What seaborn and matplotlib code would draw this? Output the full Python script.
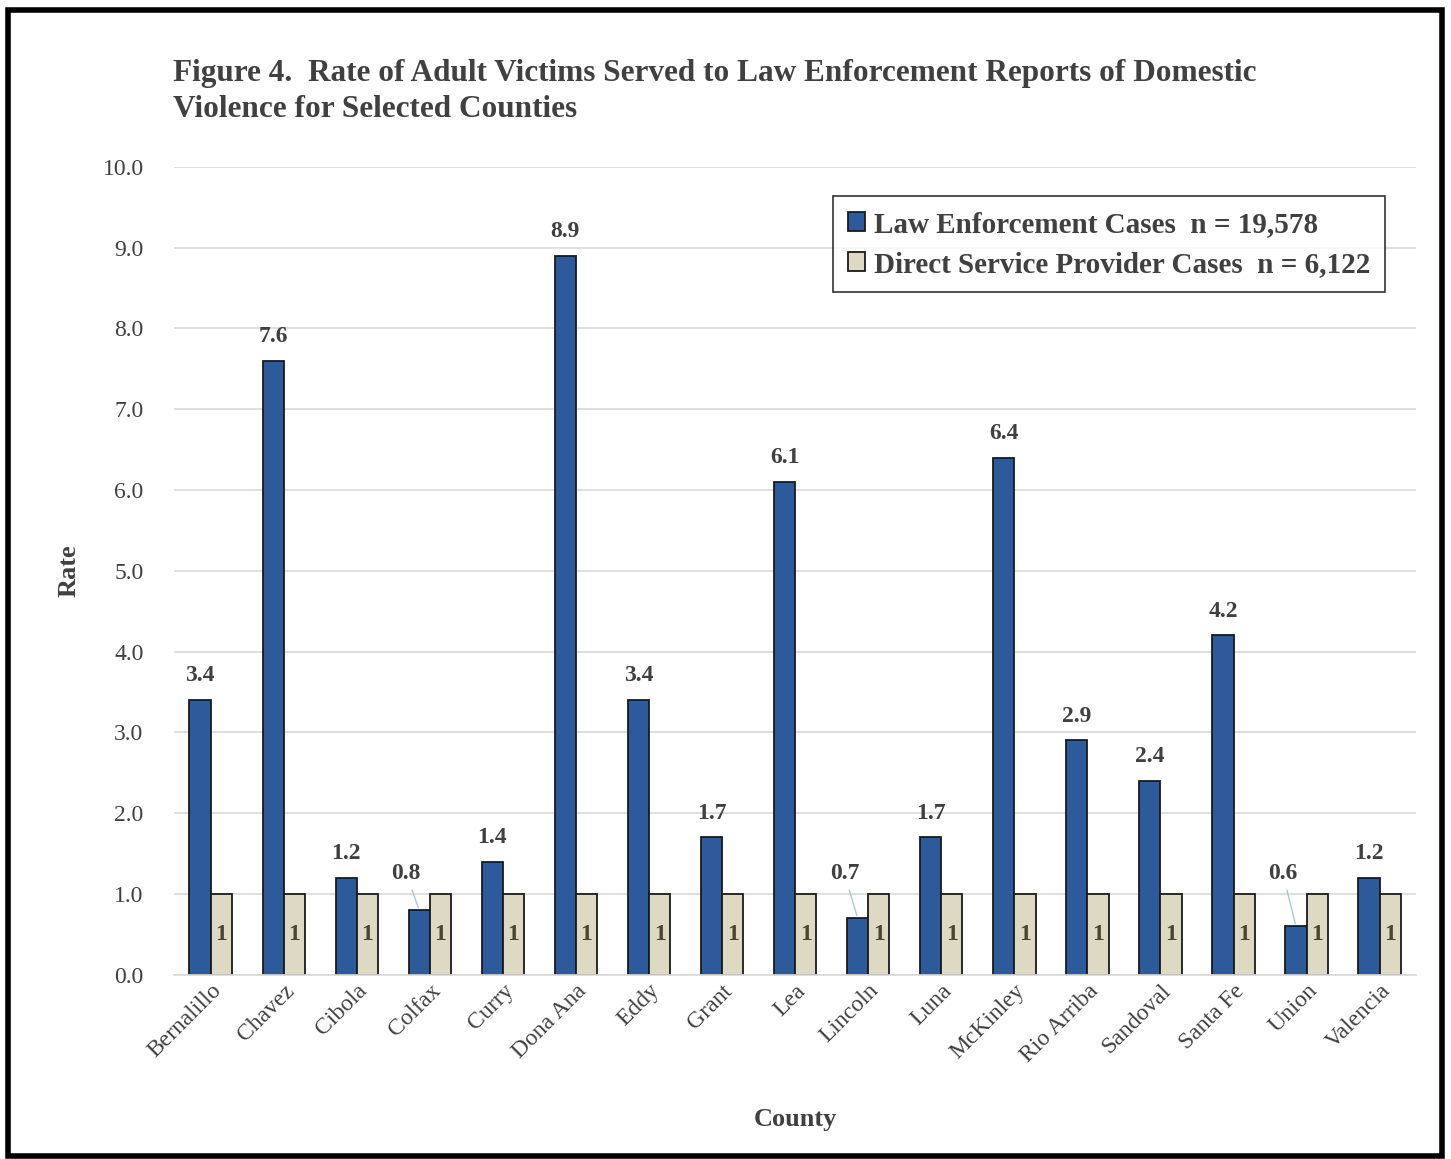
import pandas as pd
import matplotlib.pyplot as plt
import matplotlib.patches as patches
import seaborn as sns

# Donnees
comtes = ['Bernalillo', 'Chavez', 'Cibola', 'Colfax', 'Curry', 'Dona Ana', 'Eddy',
          'Grant', 'Lea', 'Lincoln', 'Luna', 'McKinley', 'Rio Arriba', 'Sandoval',
          'Santa Fe', 'Union', 'Valencia']
taux_police = [3.4, 7.6, 1.2, 0.8, 1.4, 8.9, 3.4, 1.7, 6.1, 0.7, 1.7, 6.4, 2.9, 2.4, 4.2, 0.6, 1.2]
taux_services = [1, 1, 1, 1, 1, 1, 1, 1, 1, 1, 1, 1, 1, 1, 1, 1, 1]
series = ['Law Enforcement Cases  n = 19,578', 'Direct Service Provider Cases  n = 6,122']
couleurs = ['#2D5A9B', '#DDD9C3']
y_ticks = [0, 1, 2, 3, 4, 5, 6, 7, 8, 9, 10]

sns.set_theme(style='white')
plt.rcParams['font.family'] = ['Liberation Serif', 'DejaVu Serif']
gris = '#404040'

df = pd.DataFrame({'County': comtes, series[0]: taux_police, series[1]: taux_services})
df_long = pd.melt(df, id_vars=['County'], value_vars=series, var_name='Type', value_name='Rate')

fig = plt.figure(figsize=(14.51, 11.59), dpi=100)
ax = fig.add_axes([0.120, 0.159, 0.856, 0.697])

sns.barplot(data=df_long, x='County', y='Rate', hue='Type', palette=couleurs,
            width=0.58, edgecolor='#1a1a1a', linewidth=1.3, ax=ax, saturation=1)

ax.set_ylim(0, 10)
ax.set_yticks(y_ticks)
ax.set_yticklabels([f'{v:.1f}' for v in y_ticks], fontsize=17, color=gris)
ax.yaxis.grid(True, color='#d9d9d9', linewidth=1.2)
ax.set_axisbelow(True)
for s in ['top', 'right', 'left']:
    ax.spines[s].set_visible(False)
ax.spines['bottom'].set_color('#d9d9d9')
ax.tick_params(axis='y', length=0, pad=22)
ax.tick_params(axis='x', length=0, pad=4)
plt.setp(ax.get_xticklabels(), rotation=45, ha='right', rotation_mode='anchor',
         fontsize=17, color=gris)

# Etiquettes des barres
conteneurs = ax.containers
for i, b in enumerate(conteneurs[0]):
    v = taux_police[i]
    x = b.get_x() + b.get_width() / 2
    if v < 1:
        ax.annotate(f'{v:.1f}', xy=(x, v), xytext=(x - 0.18, 1.12), ha='center', va='bottom',
                    fontsize=17, fontweight='bold', color=gris,
                    arrowprops=dict(arrowstyle='-', color='#a8c8e0', lw=1))
    else:
        ax.annotate(f'{v:.1f}', xy=(x, v), xytext=(0, 10), textcoords='offset points',
                    ha='center', va='bottom', fontsize=17, fontweight='bold', color=gris)
for i, b in enumerate(conteneurs[1]):
    x = b.get_x() + b.get_width() / 2
    ax.text(x, 0.5, f'{taux_services[i]}', ha='center', va='center', fontsize=17,
            fontweight='bold', color='#4a4530')

ax.set_xlabel('County', fontsize=19, fontweight='bold', color=gris, labelpad=30)
ax.set_ylabel('Rate', fontsize=19, fontweight='bold', color=gris, labelpad=16)

leg = ax.legend(loc='upper right', bbox_to_anchor=(0.975, 0.964), borderaxespad=0,
                frameon=True, fancybox=False, edgecolor='black', fontsize=21,
                handlelength=0.6, handleheight=0.6, handletextpad=0.3,
                labelspacing=0.45, borderpad=0.5)
leg.get_frame().set_linewidth(1.2)
for t in leg.get_texts():
    t.set_fontweight('bold')
    t.set_color(gris)

fig.text(0.119, 0.921, 'Figure 4.  Rate of Adult Victims Served to Law Enforcement Reports of Domestic\nViolence for Selected Counties',
         fontsize=22.5, fontweight='bold', color=gris, ha='left', va='center', linespacing=1.35)

fig.patches.append(patches.Rectangle((0.0055, 0.003), 0.988, 0.988, transform=fig.transFigure,
                                     fill=False, edgecolor='black', linewidth=4))

fig.savefig('out.png', dpi=100)
